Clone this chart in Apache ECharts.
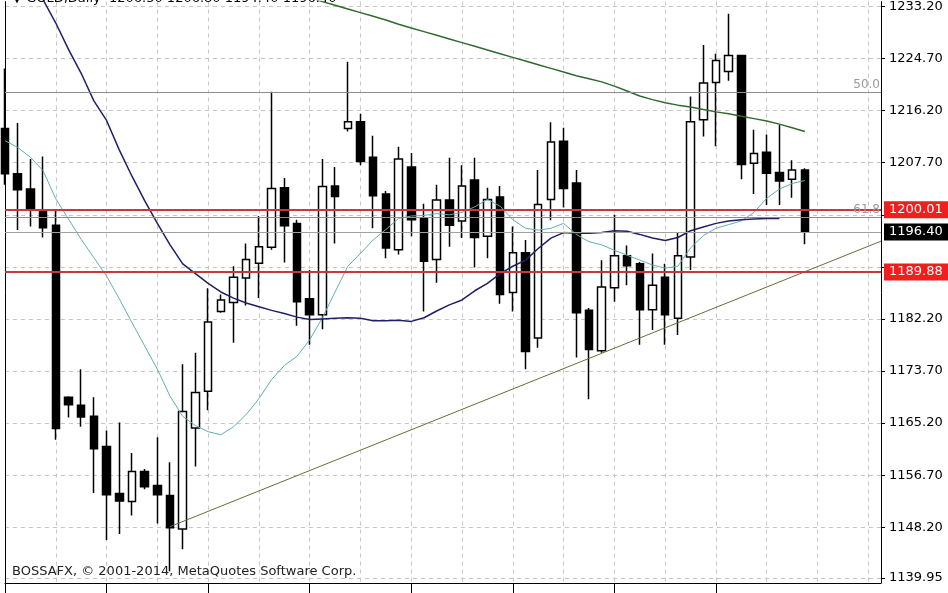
<!DOCTYPE html>
<html>
<head>
<meta charset="utf-8">
<script src="https://cdn.jsdelivr.net/npm/echarts@6/dist/echarts.min.js"></script>
<style>
html,body{margin:0;padding:0;background:#fff;}
#c{width:948px;height:593px;}
</style>
</head>
<body>
<div id="c"></div>
<script>
// ---- data ----
const categories = Array.from({length: 70}, (_, i) => String(i));
// [open, close, low, high]
const opens  = [1213.3,1205.9,1203.4,1199.8,1197.5,1169.4,1168.1,1166.3,1161.4,1153.7,
                1152.4,1157.3,1155.0,1153.4,1147.9,1164.4,1170.4,1183.4,1184.9,1188.9,
                1191.3,1193.9,1203.6,1197.8,1185.5,1182.9,1203.9,1213.3,1214.4,1208.6,
                1202.6,1193.5,1207.0,1198.6,1191.9,1201.6,1198.2,1204.9,1195.7,1202.1,
                1186.5,1193.0,1179.1,1201.7,1211.2,1204.4,1183.6,1177.0,1187.3,1192.5,
                1191.2,1183.7,1189.0,1182.3,1192.3,1214.7,1220.8,1222.6,1225.2,1207.6,
                1209.4,1206.1,1205.0,1206.5];
const highs  = [1223.1,1214.2,1208.3,1208.7,1199.8,1169.6,1174.0,1169.4,1164.0,1165.3,
                1160.3,1157.7,1162.9,1158.8,1174.8,1176.7,1187.2,1186.2,1190.8,1194.5,
                1199.0,1219.3,1205.2,1198.4,1190.2,1208.3,1207.0,1224.2,1215.7,1212.1,
                1203.1,1210.3,1209.3,1201.0,1204.1,1208.5,1207.3,1208.5,1203.6,1203.9,
                1197.3,1195.1,1206.5,1214.3,1213.4,1206.5,1184.0,1191.8,1199.2,1194.2,
                1191.5,1192.9,1191.2,1196.4,1218.5,1226.9,1225.5,1232.0,1225.2,1213.1,
                1212.3,1213.9,1208.1,1206.8];
const lows   = [1204.1,1196.7,1197.3,1195.5,1162.5,1166.1,1164.6,1153.8,1146.1,1147.1,
                1150.1,1154.4,1148.8,1141.0,1144.6,1158.1,1167.3,1183.2,1178.3,1184.4,
                1185.6,1193.5,1191.4,1181.1,1178.0,1180.5,1194.5,1212.8,1207.3,1197.0,
                1192.1,1192.7,1195.7,1183.4,1188.1,1194.0,1195.4,1190.6,1192.1,1184.7,
                1183.4,1174.0,1177.5,1198.3,1200.4,1175.9,1169.1,1176.7,1185.0,1187.7,
                1178.0,1180.4,1178.0,1179.6,1190.2,1212.0,1210.4,1221.1,1205.0,1202.6,
                1200.8,1200.8,1202.0,1194.4];
const closes = [1205.9,1203.3,1200.1,1197.1,1164.3,1168.2,1166.2,1161.0,1153.5,1152.5,
                1157.3,1154.8,1153.5,1148.1,1167.1,1170.2,1181.7,1185.3,1189.0,1191.9,
                1194.0,1203.5,1197.4,1185.0,1182.9,1203.8,1202.2,1214.4,1207.9,1202.3,
                1193.8,1208.3,1198.4,1191.6,1201.6,1197.5,1203.9,1195.5,1201.7,1186.2,
                1193.0,1176.9,1200.9,1211.1,1203.5,1183.2,1177.2,1187.4,1192.5,1190.9,
                1183.7,1187.7,1182.9,1192.5,1214.4,1220.7,1224.4,1225.2,1207.4,1209.2,
                1206.0,1204.7,1206.5,1196.4];
const slowMA = [1246.0,1242.0,1238.2,1234.3,1230.5,1226.2,1222.3,1217.8,1214.6,1209.8,
                1205.5,1201.5,1197.8,1194.3,1191.2,1189.6,1188.0,1186.6,1185.6,1184.8,
                1184.2,1183.6,1183.1,1182.5,1182.1,1182.2,1182.3,1182.4,1182.3,1181.9,
                1181.9,1182.0,1181.8,1182.4,1183.5,1184.5,1185.3,1186.8,1188.0,1189.6,
                1190.8,1191.8,1193.7,1195.4,1196.3,1196.2,1196.2,1196.3,1196.6,1196.5,
                1196.0,1195.4,1195.0,1195.5,1196.6,1197.2,1197.8,1198.2,1198.4,1198.5,
                1198.6,1198.6];
const fastMA = [1211.3,1210.2,1208.6,1206.4,1201.8,1198.5,1195.2,1192.2,1189.2,1185.5,
                1181.6,1177.8,1174.0,1169.6,1166.3,1164.8,1163.8,1163.3,1164.6,1166.6,
                1169.2,1172.3,1174.6,1176.1,1178.8,1182.4,1186.6,1190.8,1192.9,1195.1,
                1196.8,1198.6,1199.0,1199.1,1199.4,1199.2,1199.6,1200.5,1201.7,1200.6,
                1198.4,1197.0,1196.7,1197.0,1197.8,1196.0,1194.8,1194.3,1193.4,1192.6,
                1191.8,1191.0,1190.5,1190.8,1193.8,1195.8,1197.0,1197.6,1198.2,1199.6,
                1201.9,1203.4,1204.3,1204.8];
const longMAStart = 24;
const longMA = [1234.7,1234.0,1233.4,1232.8,1232.2,1231.6,1231.0,1230.3,1229.7,1229.1,
                1228.5,1227.9,1227.3,1226.7,1226.1,1225.5,1224.9,1224.3,1223.7,1223.1,
                1222.5,1221.9,1221.4,1220.9,1220.2,1219.4,1218.6,1218.0,1217.5,1217.1,
                1216.8,1216.4,1216.0,1215.7,1215.3,1214.9,1214.5,1214.0,1213.4,1212.8];
const trendIdx = [13, 69];
const trendVal = [1148.3, 1194.9];
const redLevels = [1200.01, 1189.88];
const bidPrice = 1196.40;
const fibLevels = [{name: '50.0', value: 1219.2}, {name: '61.8', value: 1198.8}];
const yTickValues = [1233.2, 1224.7, 1216.2, 1207.7, 1199.2, 1190.7, 1182.2, 1173.7, 1165.2, 1156.7, 1148.2, 1139.95];
const yLabelValues = [1233.2, 1224.7, 1216.2, 1207.7, 1182.2, 1173.7, 1165.2, 1156.7, 1148.2, 1139.95];
const xTickIndices = [0, 8, 16, 24, 32, 40, 48, 56];
const titleText = '\u25BC GOLD,Daily  1206.50 1206.80 1194.40 1196.40';
const footerText = 'BOSSAFX, \u00A9 2001-2014, MetaQuotes Software Corp.';
const yMin = 1139.1, yMax = 1234.0;

// ---- build ----
const candleData = opens.map((o, i) => [o, closes[i], lows[i], highs[i]]);
const longMAData = categories.map((_, i) => {
  const k = i - longMAStart;
  return (k >= 0 && k < longMA.length) ? longMA[k] : null;
});
const FONT = 'DejaVu Sans';

const chart = echarts.init(document.getElementById('c'), null, {renderer: 'canvas'});
chart.setOption({
  animation: false,
  backgroundColor: '#ffffff',
  grid: {left: 5, right: 67, top: 0, bottom: 10},
  xAxis: {
    type: 'category',
    data: categories,
    boundaryGap: false,
    axisLine: {show: true, lineStyle: {color: '#000', width: 1}},
    axisTick: {show: true, interval: (idx) => xTickIndices.indexOf(idx) >= 0, length: 10, lineStyle: {color: '#000'}},
    axisLabel: {show: false},
    splitLine: {show: true, interval: 3, lineStyle: {color: '#c6c6c6', type: [4, 4], width: 1}}
  },
  yAxis: [{
    type: 'value',
    position: 'right',
    min: yMin, max: yMax,
    axisLine: {show: true, lineStyle: {color: '#000', width: 1}},
    axisTick: {show: true, length: 4, lineStyle: {color: '#000'}, customValues: yTickValues},
    axisLabel: {
      show: true, customValues: yLabelValues, color: '#000', fontFamily: FONT, fontSize: 13, margin: 8,
      formatter: v => Number(v).toFixed(2)
    },
    splitLine: {show: true, lineStyle: {color: '#c6c6c6', type: [4, 4], width: 1}}
  }, {
    type: 'value',
    position: 'left',
    min: yMin, max: yMax,
    axisLine: {show: true, lineStyle: {color: '#000', width: 1}},
    axisTick: {show: false},
    axisLabel: {show: false},
    splitLine: {show: false}
  }],
  series: [
    {
      type: 'candlestick',
      data: candleData,
      barWidth: 8,
      clip: true,
      z: 2,
      itemStyle: {color: '#ffffff', color0: '#000000', borderColor: '#000000', borderColor0: '#000000', borderWidth: 1.5}
    },
    {
      type: 'line', data: fastMA, symbol: 'none', clip: true, z: 3,
      lineStyle: {color: '#62aeb4', width: 1}
    },
    {
      type: 'line', data: slowMA, symbol: 'none', clip: true, z: 3,
      lineStyle: {color: '#1f1f66', width: 1.5}
    },
    {
      type: 'line', data: longMAData, symbol: 'none', clip: true, z: 3,
      lineStyle: {color: '#2f6a2f', width: 1.5}
    },
    {
      type: 'line', data: trendIdx.map((x, i) => [x, trendVal[i]]), symbol: 'none', clip: true, z: 3,
      lineStyle: {color: '#6e6a3a', width: 1}
    },
    {
      type: 'line', data: [], z: 4,
      markLine: {
        silent: true, symbol: ['none', 'none'], animation: false,
        data: [
          ...fibLevels.map(f => ({
            yAxis: f.value,
            lineStyle: {color: '#8c8c8c', width: 1, type: 'solid'},
            label: {show: true, position: 'insideEndTop', formatter: f.name, color: '#9a9a9a', fontFamily: FONT, fontSize: 12, distance: 1}
          })),
          {
            yAxis: bidPrice,
            lineStyle: {color: '#a0a0a0', width: 1, type: 'solid'},
            label: {show: true, position: 'end', formatter: bidPrice.toFixed(2), color: '#fff', backgroundColor: '#000',
                    fontFamily: FONT, fontSize: 13, padding: [2, 6, 2, 5], distance: 3}
          },
          ...redLevels.map(v => ({
            yAxis: v,
            lineStyle: {color: '#c8383a', width: 2, type: 'solid'},
            label: {show: true, position: 'end', formatter: v.toFixed(2), color: '#fff', backgroundColor: '#f01e1e',
                    fontFamily: FONT, fontSize: 13, padding: [2, 6, 2, 5], distance: 3}
          }))
        ]
      }
    }
  ],
  graphic: [
    {type: 'text', left: 12, top: -8, style: {text: titleText, fill: '#000', font: '13px "DejaVu Sans"'}, z: 10},
    {type: 'text', left: 12, top: 565, style: {text: footerText, fill: '#222', font: '13px "DejaVu Sans"'}, z: 10}
  ]
});
</script>
</body>
</html>
